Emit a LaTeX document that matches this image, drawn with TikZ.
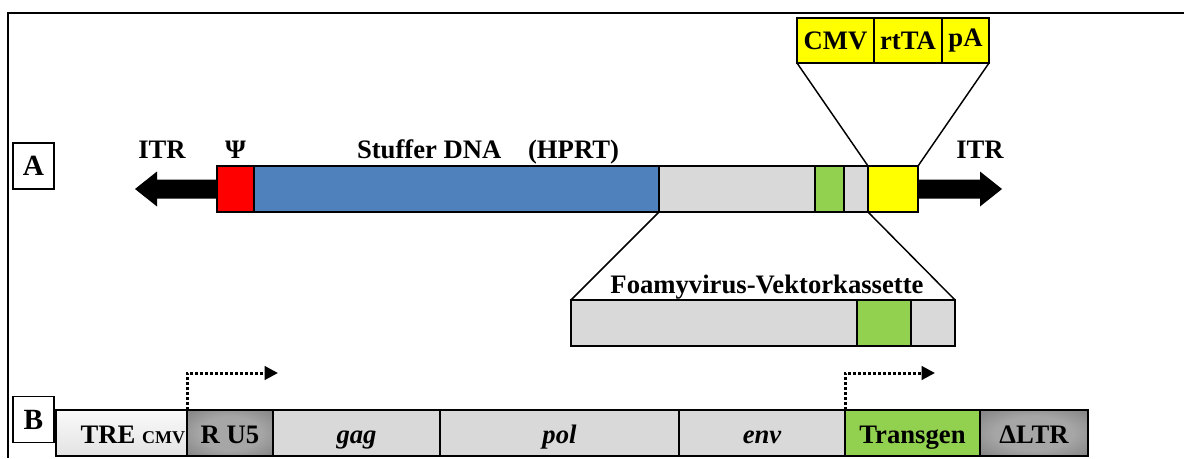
\documentclass[tikz,border=0pt]{standalone}
\usepackage{fontspec}
\setmainfont{Liberation Serif}
\usetikzlibrary{arrows.meta,positioning}

\definecolor{psired}{HTML}{FF0000}
\definecolor{stuffblue}{HTML}{4F81BD}
\definecolor{genegreen}{HTML}{92D050}
\definecolor{foamgray}{HTML}{D9D9D9}
\definecolor{tetyellow}{HTML}{FFFF00}
\definecolor{ltrlight}{HTML}{A6A6A6}
\definecolor{ltrdark}{HTML}{666666}
\pgfdeclareradialshading{ltrshade}{\pgfpoint{0bp}{0bp}}{color(0bp)=(ltrlight); color(18bp)=(ltrlight); color(50bp)=(ltrdark); color(100bp)=(ltrdark)}

\begin{document}
\begin{tikzpicture}[x=0.75pt,y=0.75pt,>={Triangle[length=10pt,width=10pt]},
    font=\bfseries\fontsize{20}{24}\selectfont]
  \tikzstyle{seg}=[rectangle,draw=black,line width=1.1pt,inner sep=0pt,outer sep=0pt,minimum height=34.5pt]
  \tikzstyle{ltr}=[seg,shading=ltrshade]
  \tikzstyle{tag}=[rectangle,draw=black,line width=0.9pt,inner sep=0pt,minimum width=30.75pt,minimum height=34.5pt,font=\bfseries\fontsize{22}{26}\selectfont]
  \tikzstyle{zoomline}=[line width=1.1pt]
  \tikzstyle{promoter}=[line width=2.25pt,dash pattern=on 2.25pt off 1.5pt]
  \tikzstyle{rowb}=[text height=15.5pt,text depth=0pt]

  \useasboundingbox (0,0) rectangle (1184,458);
  \draw[line width=1.5pt] (8,0) -- (8,445) -- (1184,445); %frame

  \node [tag] (taga) at (33.5,292) {A};
  \node [tag] (tagb) at (33.5,38.5) {B};

  % A: construct
  \node [seg,fill=psired,minimum width=27.75pt,anchor=west] (psi) at (217,269) {};
  \node [seg,fill=stuffblue,minimum width=303.75pt,right=0pt of psi] (stuffer) {};
  \node [seg,fill=foamgray,minimum width=117pt,right=0pt of stuffer] (cass) {};
  \node [seg,fill=genegreen,minimum width=21.75pt,right=0pt of cass] (transA) {};
  \node [seg,fill=foamgray,minimum width=18pt,right=0pt of transA] (ltrA) {};
  \node [seg,fill=tetyellow,minimum width=37.5pt,right=0pt of ltrA] (tet) {};

  \fill (216,278.5) -- (157,278.5) -- (157,286.5) -- (135,269) -- (157,251.5) -- (157,259.5) -- (216,259.5) -- cycle; %ITR
  \fill (919,278.5) -- (980,278.5) -- (980,286.5) -- (1002,269) -- (980,251.5) -- (980,259.5) -- (919,259.5) -- cycle; %ITR

  \node [anchor=base] (itrl) at (162,300) {ITR};
  \node [anchor=base] (psilabel) at (235.5,300) {Ψ};
  \node [anchor=base] (stufflabel) at (488,300) {Stuffer DNA\quad(HPRT)};
  \node [anchor=base] (itrr) at (980,300) {ITR};

  % tet cassette
  \node [seg,fill=tetyellow,minimum width=57.75pt,minimum height=33.75pt,anchor=west] (cmv) at (797,417.5) {CMV};
  \node [seg,fill=tetyellow,minimum width=51pt,minimum height=33.75pt,right=0pt of cmv] (rtta) {rtTA};
  \node [seg,fill=tetyellow,minimum width=35.25pt,minimum height=33.75pt,right=0pt of rtta] (pa) {pA};
  \draw [zoomline] (cmv.south west) -- (tet.north west);
  \draw [zoomline] (pa.south east) -- (tet.north east);

  % foamy vector cassette
  \node [seg,fill=foamgray,minimum width=214.5pt,anchor=west] (fv1) at (571,135) {};
  \node [seg,fill=genegreen,minimum width=40.5pt,right=0pt of fv1] (fv2) {};
  \node [seg,fill=foamgray,minimum width=33pt,right=0pt of fv2] (fv3) {};
  \node [anchor=base] (foamlabel) at (767,165) {Foamyvirus-Vektorkassette};
  \draw [zoomline] (cass.south west) -- (fv1.north west);
  \draw [zoomline] (ltrA.south east) -- (fv3.north east);

  % B: vector
  \node [seg,rowb,top color=gray!4,bottom color=gray!22,minimum width=98.25pt,anchor=west] (tre) at (56,25) {\hspace*{17pt}TRE {\fontsize{13.5}{16}\selectfont CMV}};
  \node [ltr,rowb,minimum width=64.5pt,right=0pt of tre] (ru5) {R U5};
  \node [seg,rowb,fill=foamgray,minimum width=125.25pt,right=0pt of ru5] (gag) {\itshape gag};
  \node [seg,rowb,fill=foamgray,minimum width=179.25pt,right=0pt of gag] (pol) {\itshape pol};
  \node [seg,rowb,fill=foamgray,minimum width=124.5pt,right=0pt of pol] (env) {\itshape env};
  \node [seg,rowb,fill=genegreen,minimum width=101.25pt,right=0pt of env] (transgen) {Transgen};
  \node [ltr,rowb,minimum width=81pt,right=0pt of transgen] (dltr) {ΔLTR};

  \coordinate (tx1) at (278,85);
  \coordinate (tx2) at (935,85);
  \draw [promoter,->] (ru5.north west) |- (tx1);
  \draw [promoter,->] (transgen.north west) |- (tx2);
\end{tikzpicture}
\end{document}
